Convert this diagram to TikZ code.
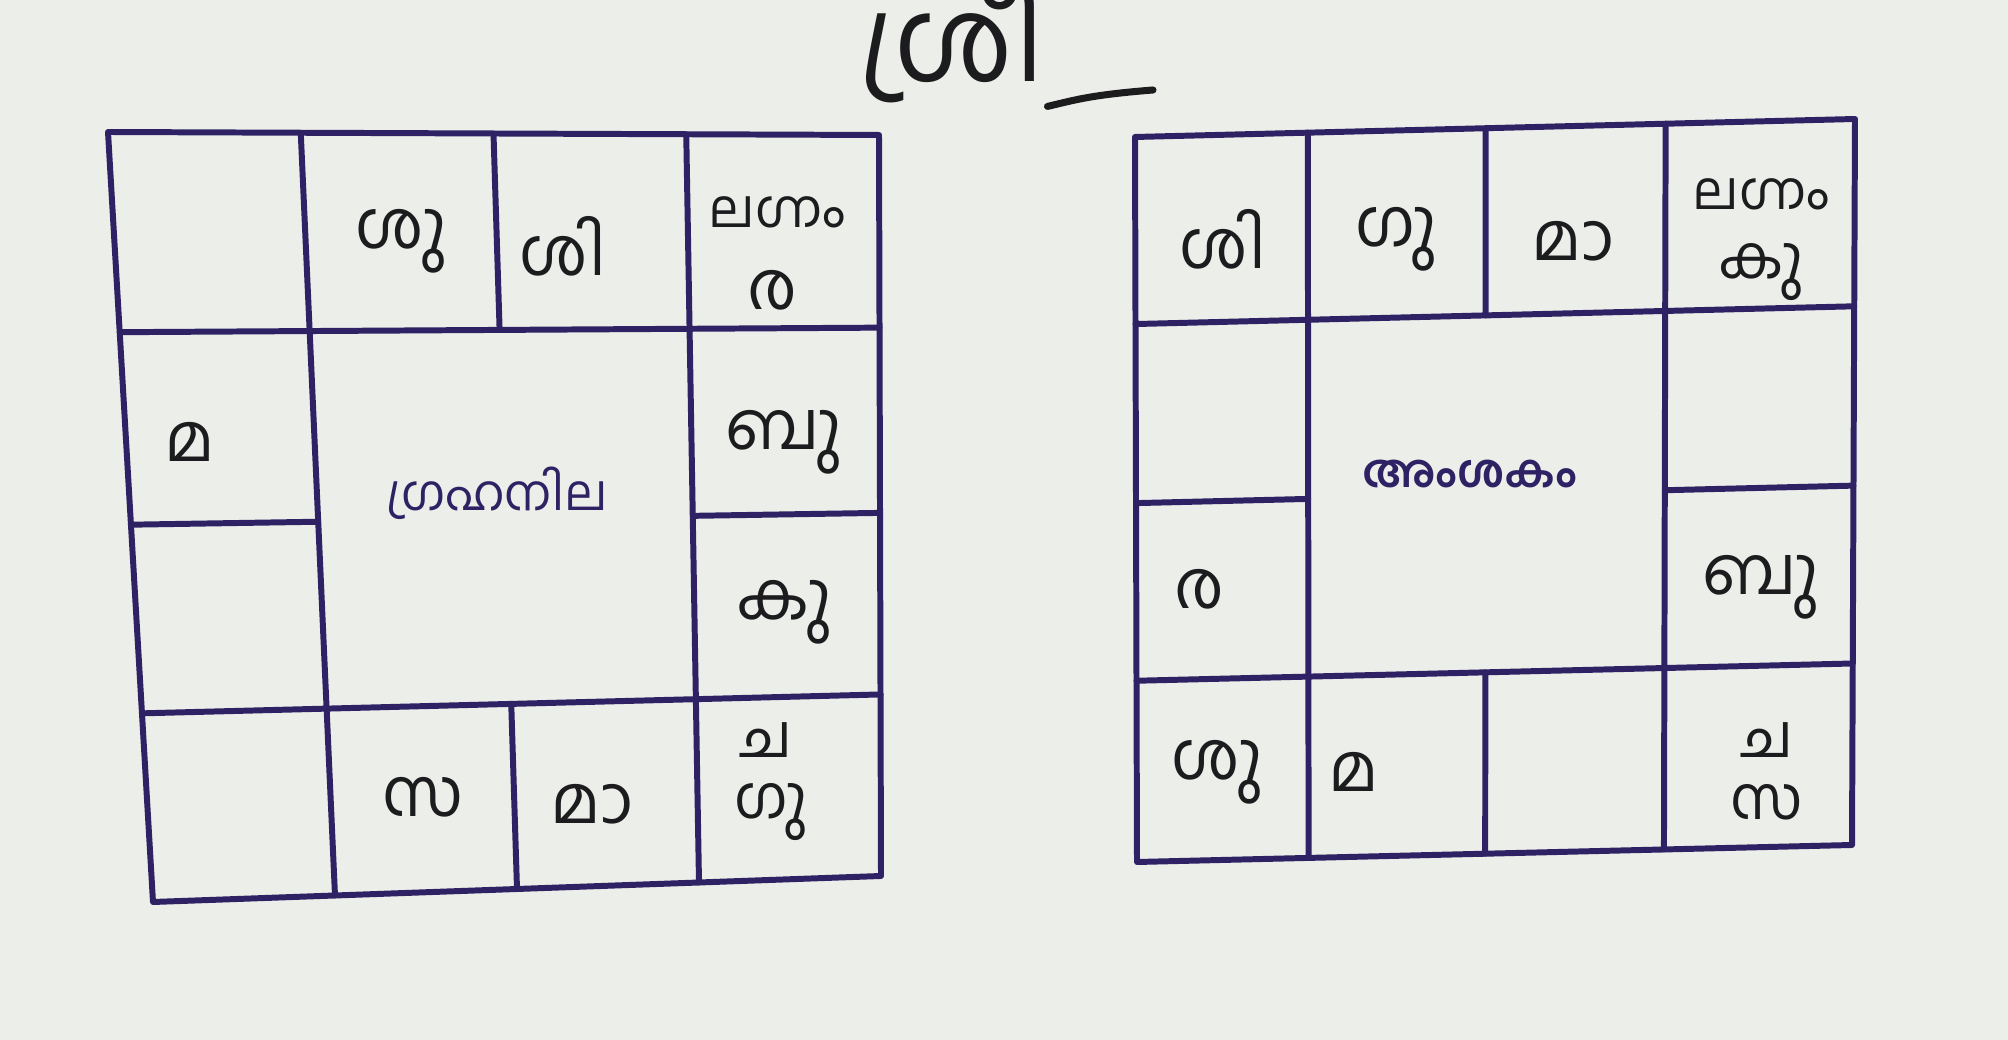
\documentclass[tikz,border=0pt]{standalone}
\usepackage{fontspec}
\usepackage{xcolor}
\usetikzlibrary{calc}
\newfontfamily\mlfont[Script=Malayalam]{Hind Kochi}
\definecolor{paper}{RGB}{236,238,233}
\definecolor{gridink}{RGB}{46,34,100}
\definecolor{penink}{RGB}{28,28,30}

\begin{document}
\begin{tikzpicture}[y=-1cm, line width=1.7pt, line join=round, line cap=round,
    hand/.style={text=penink, font=\mlfont\fontsize{19}{21}\selectfont, inner sep=0pt},
    handsm/.style={text=penink, font=\mlfont\fontsize{17}{19}\selectfont, inner sep=0pt},
    print/.style={text=gridink, font=\mlfont\bfseries\fontsize{13}{15}\selectfont, inner sep=0pt}]
  \fill[paper] (0,0) rectangle (20.08,10.40);
  \useasboundingbox (0,0) rectangle (20.08,10.40);

  % title
  \node[hand, font=\mlfont\fontsize{33}{35}\selectfont] (title) at (9.52,0.40) {ശ്രീ};
  \coordinate (tailend) at (11.53,0.90);
  \draw[penink, line width=2pt] (title.south east) .. controls (10.75,1.0) and (10.9,0.95) .. (tailend);

  % grahanila chart
  \coordinate (La) at (1.08,1.32);
  \coordinate (Lb) at (8.79,1.35);
  \coordinate (Lc) at (8.81,8.76);
  \coordinate (Ld) at (1.53,9.02);
  \foreach \i/\s in {0/0,1/.25,2/.5,3/.75,4/1}{
    \foreach \j/\t in {0/0,1/.26,2/.51,3/.755,4/1}{
      \coordinate (L\i\j) at ($($(La)!\s!(Lb)$)!\t!($(Ld)!\s!(Lc)$)$);
    }
  }
  \draw[gridink] (L00) -- (L40) -- (L44) -- (L04) -- cycle;
  \draw[gridink] (L10) -- (L14) (L30) -- (L34) (L20) -- (L21) (L23) -- (L24);
  \draw[gridink] (L01) -- (L41) (L03) -- (L43) (L02) -- (L12) (L32) -- (L42);

  \node[print, font=\mlfont\fontsize{14}{16}\selectfont] (grahanila) at (4.97,4.93) {ഗ്രഹനില};
  \node[hand] (lsu) at (4.01,2.41) {ശു};
  \node[hand] (lsi) at (5.63,2.46) {ശി};
  \node[handsm, font=\mlfont\fontsize{15}{17}\selectfont] (llag) at (7.77,2.12) {ലഗ്നം};
  \node[hand] (lra) at (7.72,2.90) {ര};
  \node[hand] (lma) at (1.90,4.42) {മ};
  \node[hand] (lbu) at (7.84,4.42) {ബു};
  \node[hand] (lku) at (7.84,6.12) {കു};
  \node[hand] (lsa) at (4.23,7.97) {സ};
  \node[hand] (lmaa) at (5.92,8.04) {മാ};
  \node[handsm] (lca) at (7.66,7.40) {ച};
  \node[handsm] (lgu) at (7.71,8.12) {ഗു};

  % amshakam chart
  \coordinate (Ra) at (11.35,1.37);
  \coordinate (Rb) at (18.55,1.19);
  \coordinate (Rc) at (18.52,8.45);
  \coordinate (Rd) at (11.37,8.62);
  \foreach \i/\s in {0/0,1/.24,2/.487,3/.737,4/1}{
    \foreach \j/\t in {0/0,1/.258,2/.505,3/.75,4/1}{
      \coordinate (R\i\j) at ($($(Ra)!\s!(Rb)$)!\t!($(Rd)!\s!(Rc)$)$);
    }
  }
  \draw[gridink] (R00) -- (R40) -- (R44) -- (R04) -- cycle;
  \draw[gridink] (R10) -- (R14) (R30) -- (R34) (R20) -- (R21) (R23) -- (R24);
  \draw[gridink] (R01) -- (R41) (R03) -- (R43) (R02) -- (R12) (R32) -- (R42);

  \node[print] (amshakam) at (14.70,4.74) {അംശകം};
  \node[hand] (rsi) at (12.23,2.39) {ശി};
  \node[hand] (rgu) at (13.96,2.39) {ഗു};
  \node[hand] (rmaa) at (15.73,2.41) {മാ};
  \node[handsm, font=\mlfont\fontsize{15}{17}\selectfont] (rlag) at (17.61,1.94) {ലഗ്നം};
  \node[handsm] (rku) at (17.61,2.72) {കു};
  \node[hand] (rra) at (11.99,5.89) {ര};
  \node[hand] (rbu) at (17.61,5.87) {ബു};
  \node[hand] (rsu) at (12.17,7.72) {ശു};
  \node[hand] (rma) at (13.54,7.72) {മ};
  \node[handsm] (rca) at (17.67,7.40) {ച};
  \node[handsm] (rsa) at (17.67,8.02) {സ};
\end{tikzpicture}
\end{document}
